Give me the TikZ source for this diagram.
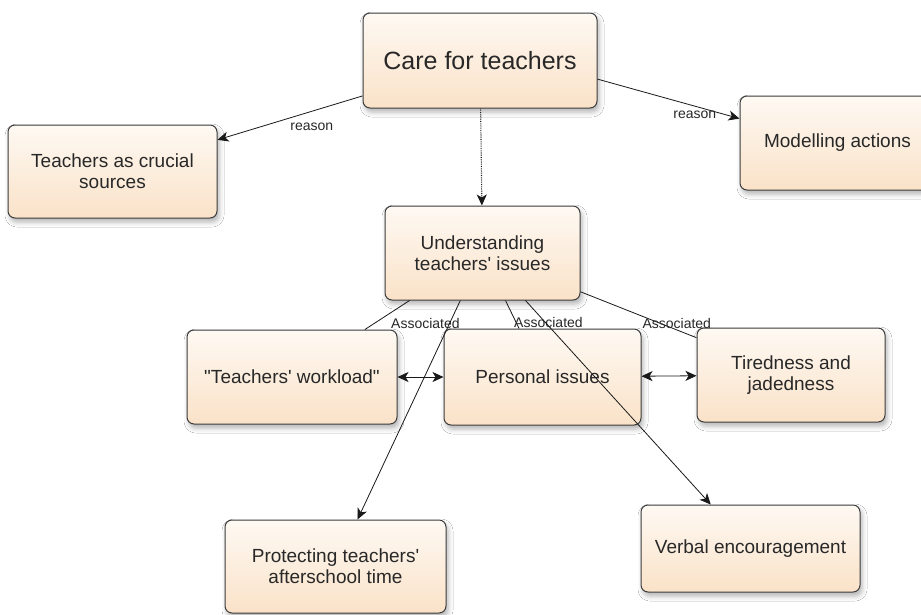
\documentclass[tikz,border=0pt]{standalone}
\usepackage{fontspec}
\setmainfont{Liberation Sans}[Ligatures=TeXOff]
\usetikzlibrary{arrows.meta}
\usetikzlibrary{shadows.blur}
\definecolor{peachlight}{RGB}{254,249,243}
\definecolor{peachdark}{RGB}{250,226,200}
\definecolor{boxline}{RGB}{60,60,60}
\definecolor{boxtext}{RGB}{40,40,40}

\begin{document}
\begin{tikzpicture}[
        x=1pt, y=-1pt,
        >={Stealth[length=11pt,width=10pt,inset=3pt]},
        concept/.style={rectangle, rounded corners=7pt, draw=boxline, line width=1pt,
            top color=peachlight, bottom color=peachdark, align=center, inner sep=2pt,
            text=boxtext, font=\fontsize{19}{21}\selectfont,
            blur shadow={shadow xshift=2pt, shadow yshift=-4pt, shadow blur radius=5pt, shadow opacity=30}},
        link/.style={draw=black!90, line width=0.8pt, ->},
        assoc/.style={draw=black!90, line width=0.8pt},
        linklabel/.style={font=\fontsize{14}{14}\selectfont, text=boxtext, inner sep=0pt},
    ]

    \clip (0,0) rectangle (921,614);
    \fill[white] (0,0) rectangle (921,614);

    \node[concept, minimum width=234pt, minimum height=95pt, font=\fontsize{25}{28}\selectfont]
                          (CT) at (480,60.5)    {Care for teachers};
    \node[concept, minimum width=209pt, minimum height=93pt]
                          (TS) at (112.5,171.5) {Teachers as crucial\\sources};
    \node[concept, minimum width=195pt, minimum height=94pt]
                          (MA) at (837.5,143)   {Modelling actions};
    \node[concept, minimum width=195pt, minimum height=94pt]
                          (UI) at (482.5,253)   {Understanding\\teachers' issues};
    \node[concept, minimum width=210pt, minimum height=94pt]
                          (TW) at (292,377)     {"Teachers' workload"};
    \node[concept, minimum width=197pt, minimum height=96pt]
                          (PI) at (542.5,377)   {Personal issues};
    \node[concept, minimum width=188pt, minimum height=94pt]
                          (TJ) at (791,375)     {Tiredness and\\jadedness};
    \node[concept, minimum width=221pt, minimum height=93pt]
                          (PT) at (335.5,566.5) {Protecting teachers'\\afterschool time};
    \node[concept, minimum width=219pt, minimum height=87pt]
                          (VE) at (750.5,548.5) {Verbal encouragement};

    \draw[link] (CT) -- node[linklabel, pos=0.35, yshift=-16pt] {reason} (TS);
    \draw[link] (CT.-9) -- node[linklabel, pos=0.685, yshift=-9pt] {reason} (MA.166);
    \draw[link, densely dotted, line width=1.1pt] (CT) -- (UI);

    \draw[assoc] (UI) -- node[linklabel, pos=0.8, anchor=west, xshift=17pt] {Associated} (TW);
    \draw[assoc] (UI) -- node[linklabel, pos=0.8, anchor=west, xshift=-2.5pt] {Associated} (PI);
    \draw[assoc] (UI) -- node[linklabel, pos=0.83, yshift=6pt] {Associated} (TJ);

    \draw[link] (UI) -- (PT);
    \draw[link] (UI) -- (VE);

    \draw[link, <->] (TW) -- (PI);
    \draw[link, <->] (PI) -- (TJ);

\end{tikzpicture}
\end{document}
